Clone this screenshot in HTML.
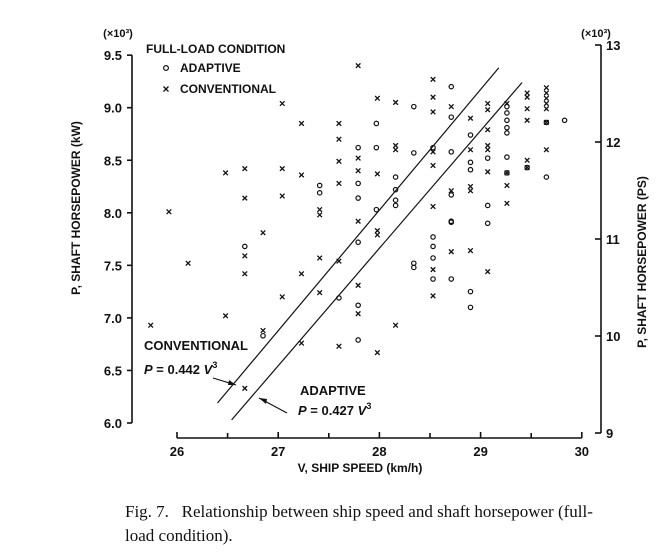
<!DOCTYPE html>
<html><head><meta charset="utf-8">
<style>
body{margin:0;background:#fff;width:670px;height:552px;overflow:hidden}
svg{position:absolute;left:0;top:0}
.t{font-family:"Liberation Sans",sans-serif;font-weight:bold;fill:#111}
.cap{position:absolute;left:125px;top:500px;width:545px;font-family:"Liberation Serif",serif;font-size:17px;line-height:24px;color:#111;white-space:nowrap}
</style></head>
<body>
<svg id="chart" width="670" height="552" xmlns="http://www.w3.org/2000/svg"></svg>
<div class="cap">Fig. 7.&nbsp;&nbsp; Relationship between ship speed and shaft horsepower (full-<br>load condition).</div>
<script>
const xTicks=[26,27,28,29,30];
const xMinor=[26.5,27.5,28.5,29.5];
const yTicksKW=[6.0,6.5,7.0,7.5,8.0,8.5,9.0,9.5];
const yTicksPS=[9,10,11,12,13];
const adaptiveV=[26.67,26.85,27.41,27.41,27.60,27.79,27.79,27.79,27.79,27.79,27.79,27.97,27.97,27.97,28.16,28.16,28.16,28.16,28.34,28.34,28.34,28.34,28.53,28.53,28.53,28.53,28.53,28.71,28.71,28.71,28.71,28.71,28.71,28.71,28.90,28.90,28.90,28.90,28.90,29.07,29.07,29.07,29.26,29.26,29.26,29.26,29.26,29.26,29.26,29.46,29.65,29.65,29.83];
const adaptiveP=[7.68,6.83,8.26,8.19,7.19,8.62,8.28,8.14,7.72,7.12,6.79,8.85,8.62,8.03,8.34,8.22,8.12,8.07,9.01,8.57,7.52,7.48,8.62,7.77,7.68,7.57,7.37,9.20,8.91,8.58,8.17,7.92,7.91,7.37,8.74,8.48,8.41,7.25,7.10,8.52,8.07,7.90,9.01,8.95,8.88,8.81,8.76,8.53,8.38,8.43,8.86,8.34,8.88];
const convV=[25.74,25.92,26.11,26.48,26.48,26.67,26.67,26.67,26.67,26.67,26.85,26.85,27.04,27.04,27.04,27.04,27.23,27.23,27.23,27.23,27.41,27.41,27.41,27.41,27.60,27.60,27.60,27.60,27.60,27.60,27.79,27.79,27.79,27.79,27.79,27.79,27.98,27.98,27.98,27.98,27.98,28.16,28.16,28.16,28.16,28.53,28.53,28.53,28.53,28.53,28.53,28.53,28.53,28.71,28.71,28.71,28.90,28.90,28.90,28.90,28.90,29.07,29.07,29.07,29.07,29.07,29.07,29.07,29.26,29.26,29.26,29.26,29.46,29.46,29.46,29.46,29.46,29.46,29.65,29.65,29.65,29.65,29.65,29.65,29.65];
const convP=[6.93,8.01,7.52,8.38,7.02,8.42,8.14,7.59,7.42,6.33,7.81,6.88,9.04,8.42,8.16,7.20,8.85,8.36,7.42,6.76,8.03,7.98,7.57,7.24,8.85,8.70,8.49,8.28,7.54,6.73,9.40,8.52,8.40,7.92,7.31,7.04,9.09,8.37,7.83,7.79,6.67,9.05,8.64,8.60,6.93,9.27,9.10,8.96,8.58,8.45,8.06,7.46,7.21,9.01,8.21,7.63,8.90,8.60,8.25,8.21,7.64,9.04,8.98,8.79,8.64,8.60,8.39,7.44,9.04,8.38,8.26,8.09,9.14,9.10,8.99,8.88,8.50,8.43,9.19,9.14,9.09,9.04,8.99,8.86,8.60];
const convLineV=[26.40,29.18];
const convLineP=[6.19,9.38];
const adLineV=[26.54,29.41];
const adLineP=[6.03,9.24];

const X=v=>177+(v-26)*101.2;
const Y=p=>423-(p-6)*105.1;
const YR=p=>433-(p-9)*97;
const svg=document.getElementById('chart');
const NS='http://www.w3.org/2000/svg';
function mk(tag,at,parent){const e=document.createElementNS(NS,tag);for(const k in at)e.setAttribute(k,at[k]);(parent||svg).appendChild(e);return e;}
function txt(s,x,y,size,anchor,cls){const e=mk('text',{x:x,y:y,'font-size':size,'text-anchor':anchor||'start',class:cls||'t'});e.textContent=s;return e;}
const L={stroke:'#111','stroke-width':1.6,fill:'none'};

let la=mk('line',Object.assign({x1:132,y1:Y(9.5),x2:132,y2:Y(6)},L));

yTicksKW.forEach(v=>{
 let tk=mk('line',Object.assign({x1:127,y1:Y(v),x2:132,y2:Y(v)},L));
 
 let t=txt(v.toFixed(1),122,Y(v)+5,13,'end');
 
});
let ra=mk('line',Object.assign({x1:601,y1:YR(13),x2:601,y2:YR(9)},L));

yTicksPS.forEach(v=>{
 let tk=mk('line',Object.assign({x1:595,y1:YR(v),x2:601,y2:YR(v)},L));
 
 let t=txt(String(v),606,YR(v)+5,13,'start');
 
});
let xa=mk('line',Object.assign({x1:X(26),y1:438,x2:X(30),y2:438},L));

xTicks.forEach(v=>{
 let tk=mk('line',Object.assign({x1:X(v),y1:432,x2:X(v),y2:438},L));
 
 let t=txt(String(v),X(v),456,13,'middle');
 
});
xMinor.forEach(v=>{
 let tk=mk('line',Object.assign({x1:X(v),y1:433,x2:X(v),y2:438},L));
 
});
let e;
e=txt('(×10³)',118,37,11,'middle');
e=txt('(×10³)',596,37,11,'middle');
e=txt('V, SHIP SPEED (km/h)',360,472,12,'middle');e.setAttribute('font-weight','normal');
e=txt('P, SHAFT HORSEPOWER (kW)',0,0,12,'middle');e.setAttribute('transform','translate(80,208) rotate(-90)');e.setAttribute('font-weight','normal');
e=txt('P, SHAFT HORSEPOWER (PS)',0,0,12,'middle');e.setAttribute('transform','translate(646,262) rotate(-90)');e.setAttribute('font-weight','normal');
e=txt('FULL-LOAD CONDITION',146,53,12);
mk('circle',{cx:166,cy:68,r:2.4,fill:'none',stroke:'#111','stroke-width':1.2});
e=txt('ADAPTIVE',180,72,12);
mk('path',{d:'M163.5,86.5l5,5M168.5,86.5l-5,5',stroke:'#111','stroke-width':1.3});
e=txt('CONVENTIONAL',180,93,12);
let cl=mk('line',{x1:X(convLineV[0]),y1:Y(convLineP[0]),x2:X(convLineV[1]),y2:Y(convLineP[1]),stroke:'#111','stroke-width':1.2});

let al=mk('line',{x1:X(adLineV[0]),y1:Y(adLineP[0]),x2:X(adLineV[1]),y2:Y(adLineP[1]),stroke:'#111','stroke-width':1.2});

adaptiveV.forEach((v,i)=>{
 const c=mk('circle',{cx:X(v),cy:Y(adaptiveP[i]),r:2.2,fill:'none',stroke:'#111','stroke-width':1.2});
 
});
convV.forEach((v,i)=>{
 const x=X(v),y=Y(convP[i]);
 const p=mk('path',{d:`M${x-2.3},${y-2.3}L${x+2.3},${y+2.3}M${x+2.3},${y-2.3}L${x-2.3},${y+2.3}`,stroke:'#111','stroke-width':1.3});
 
});
e=txt('CONVENTIONAL',144,350,13);
e=txt('',144,374,13);e.setAttribute('font-weight','normal');
e.innerHTML='<tspan font-style="italic">P</tspan> = 0.442 <tspan font-style="italic">V</tspan><tspan font-size="9" dy="-6">3</tspan>';
e=txt('ADAPTIVE',300,395,13);
e=txt('',298,415,13);e.setAttribute('font-weight','normal');
e.innerHTML='<tspan font-style="italic">P</tspan> = 0.427 <tspan font-style="italic">V</tspan><tspan font-size="9" dy="-6">3</tspan>';
mk('path',{d:'M213,378L236,385',stroke:'#111','stroke-width':1.1});
mk('path',{d:'M236,385l-7,-5l-1,5z',fill:'#111'});
mk('path',{d:'M287,413L259,398',stroke:'#111','stroke-width':1.1});
mk('path',{d:'M259,398l7,6l1,-5z',fill:'#111'});
</script>
</body></html>
